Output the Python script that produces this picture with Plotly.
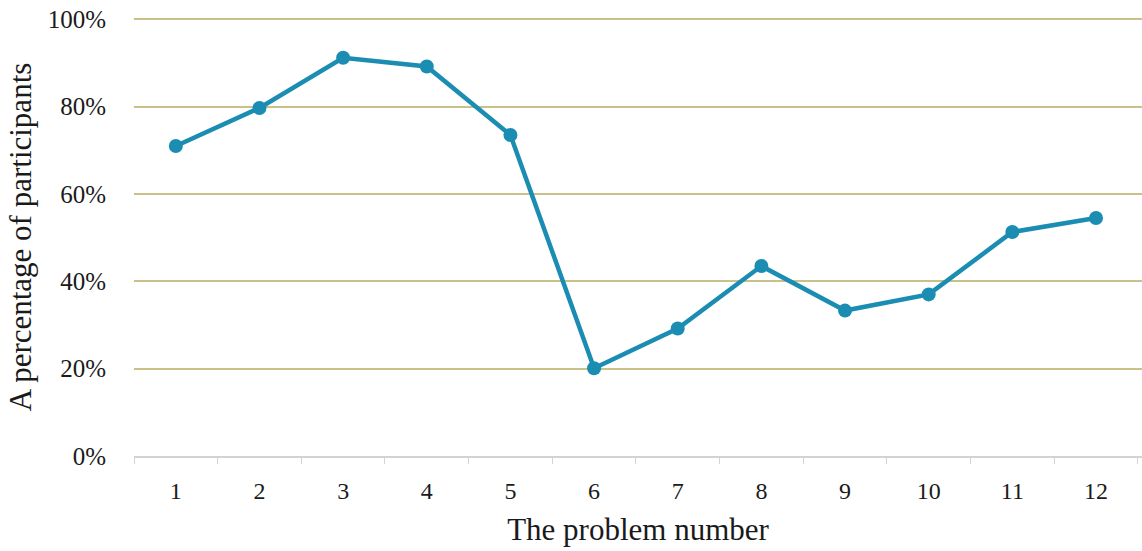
import plotly.graph_objects as go

problems = ["1", "2", "3", "4", "5", "6", "7", "8", "9", "10", "11", "12"]
percent = [0.710, 0.797, 0.912, 0.892, 0.735, 0.201, 0.292, 0.435, 0.333, 0.370, 0.513, 0.545]
y_ticks = [0, 0.2, 0.4, 0.6, 0.8, 1.0]
y_tick_labels = ["0%", "20%", "40%", "60%", "80%", "100%"]

fig = go.Figure()
fig.add_trace(go.Scatter(
    x=problems, y=percent, mode="lines+markers",
    line=dict(color="#1b8db2", width=4.5),
    marker=dict(color="#1b8db2", size=14),
    showlegend=False,
))

font_family = "Liberation Serif, Times New Roman, serif"
fig.update_layout(
    width=1142, height=551,
    margin=dict(l=134, r=0, t=18, b=95),
    paper_bgcolor="white", plot_bgcolor="white",
    font=dict(family=font_family, color="#1a1a1a", size=25),
    xaxis=dict(
        type="category",
        range=[-0.5, 11.55],
        showline=True, linecolor="#d3d3d3", linewidth=1.5,
        ticks="outside", tickson="boundaries", ticklen=6, tickcolor="#d3d3d3",
        ticklabelstandoff=12,
        showgrid=False,
        tickfont=dict(size=24),
        title=dict(text="The problem number", font=dict(size=31), standoff=16),
    ),
    yaxis=dict(
        range=[0, 1.003],
        tickvals=y_ticks, ticktext=y_tick_labels,
        showgrid=True, gridcolor="#c9c08a", gridwidth=1.5,
        zeroline=False, showline=False,
        ticks="outside", ticklen=22, tickcolor="rgba(0,0,0,0)",
        tickfont=dict(size=25),
        title=dict(text="A percentage of participants", font=dict(size=31), standoff=6),
    ),
)

fig.write_html("out.html", config={"displayModeBar": False},
               post_script="document.body.style.margin='0';")
